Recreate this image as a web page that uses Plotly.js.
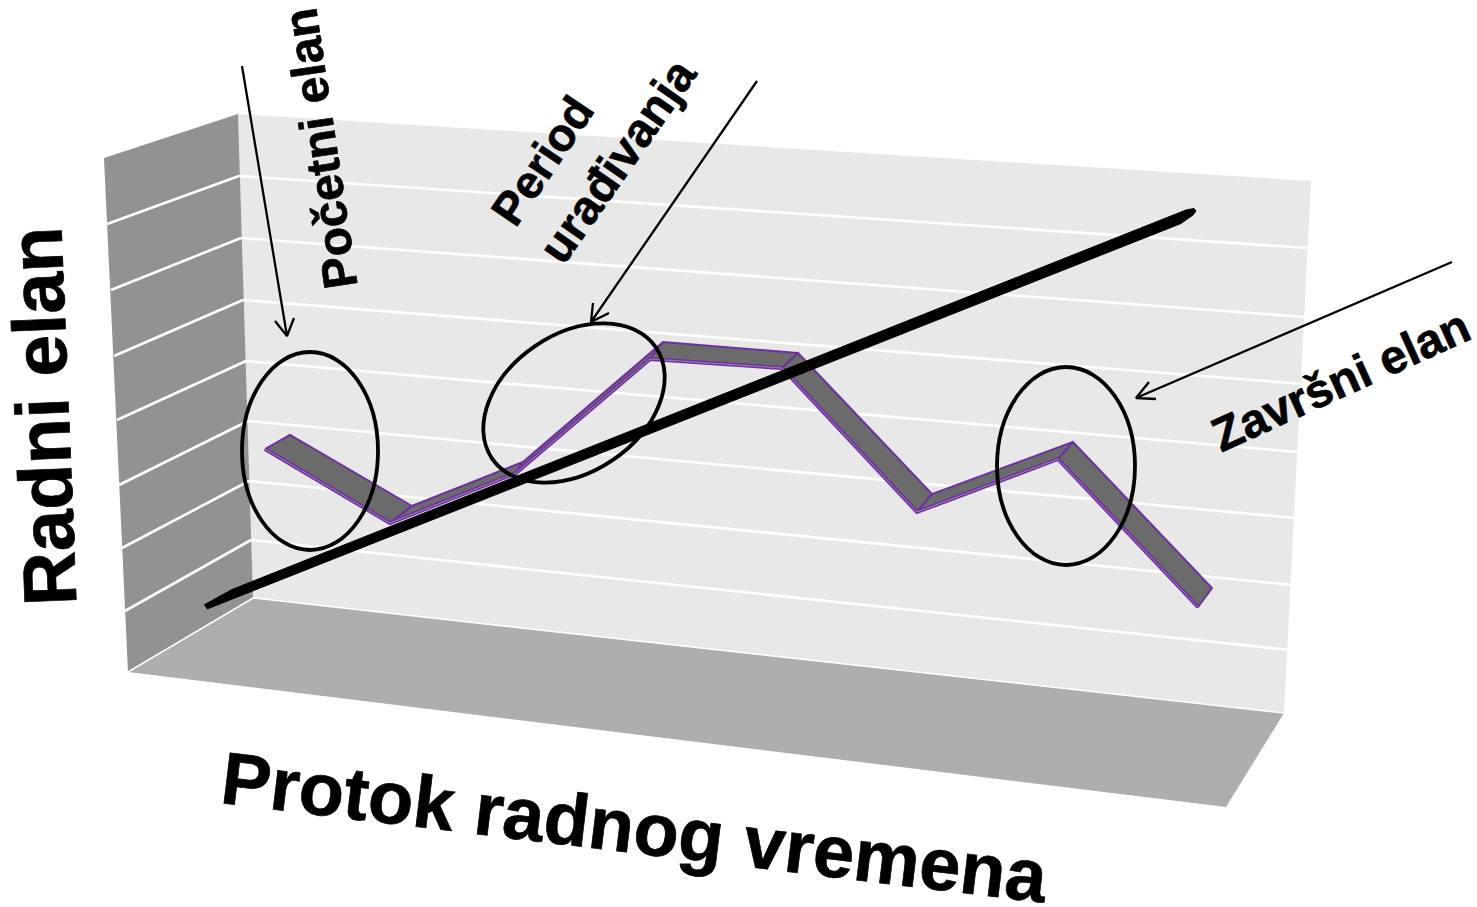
<!DOCTYPE html>
<html>
<head>
<meta charset="utf-8">
<script src="https://cdn.plot.ly/plotly-3.0.1.min.js"></script>
<style>html,body{margin:0;padding:0;background:#fff;overflow:hidden}#chart{width:1477px;height:907px}
.annotation-text{stroke:#000;stroke-width:.7px}</style>
</head>
<body>
<div id="chart"></div>
<script>
// In the chart's own units
var wallBackX = [238, 1311, 1284, 253];
var wallBackY = [114, 181, 713, 598];
var wallLeftX = [104, 238, 253, 128];
var wallLeftY = [158, 114, 598, 672];
var floorX = [128, 253, 1284, 1226];
var floorY = [672, 598, 713, 807];

var gridBackStartX = [239, 241, 243, 246, 248, 249, 251];
var gridBackEndX = [1307, 1305, 1303, 1298, 1295, 1292, 1290];
var gridBackStartY = [176, 238, 300, 361, 421, 481, 540];
var gridBackEndY = [248, 317, 384, 452, 518, 585, 650];
var gridLeftFrontX = [107, 111, 114, 117, 119, 122, 125];
var gridLeftFrontY = [224, 290, 356, 420, 485, 548, 611];

var ribbonFrontX = [265, 390, 516, 650, 782, 917, 1058, 1198];
var ribbonFrontY = [449, 523, 473, 359, 368, 512, 459, 607];
var ribbonBackX = [290, 412, 523, 663, 798, 932, 1073, 1212];
var ribbonBackY = [435, 506, 462, 342, 353, 494, 442, 588];

var trendX = [204, 232, 1186, 1194, 1196, 1193, 1181, 236, 207];
var trendY = [605, 589.5, 210, 208.5, 211, 215, 223.5, 598, 609];

var ringCentreX = [310, 574, 1066];
var ringCentreY = [451, 403, 466];
var ringRadiusA = [68, 99, 69];
var ringRadiusB = [99, 69, 99];
var ringTilt = [0, -34, 0];

var arrowOneX = [242, 287, 275, 287, 294];
var arrowOneY = [66, 336, 321, 336, 318];
var arrowTwoX = [757, 591, 593, 591, 609];
var arrowTwoY = [81, 322, 303, 322, 313];
var arrowThreeX = [1452, 1136, 1149, 1136, 1156];
var arrowThreeY = [262, 398, 382, 398, 399];

var labelTexts = ['Radni elan', 'Protok radnog vremena', 'Početni elan', 'Period', 'urađivanja', 'Završni elan'];
var labelX = [43, 635, 320, 542, 617, 1340];
var labelY = [417, 827, 149, 161, 160, 380];
var labelAngle = [-92.3, 6.9, -98.5, -56, -55, -24.4];
var labelSize = [75, 74, 48, 46, 47, 47.5];

var traces = [];
function poly(x, y, fill, edge) {
  traces.push({x: x, y: y, mode: 'lines', fill: 'toself', fillcolor: fill,
    line: {width: edge || 0, color: fill}, hoverinfo: 'skip', showlegend: false});
}
function line(x, y, color, width) {
  traces.push({x: x, y: y, mode: 'lines', line: {color: color, width: width},
    hoverinfo: 'skip', showlegend: false});
}

poly(wallBackX, wallBackY, '#e8e8e8');
poly(wallLeftX, wallLeftY, '#929292');
poly(floorX, floorY, '#aeaeae');

gridBackStartX.forEach(function (sx, i) {
  line([sx, gridBackEndX[i]], [gridBackStartY[i], gridBackEndY[i]], '#ffffff', 2.6);
  line([gridLeftFrontX[i], sx], [gridLeftFrontY[i], gridBackStartY[i]], '#ffffff', 2.6);
});
line([wallLeftX[3], wallLeftX[2], wallBackX[2]], [wallLeftY[3], wallLeftY[2], wallBackY[2]], '#ffffff', 1.5);

for (var i = 0; i < ribbonFrontX.length - 1; i++) {
  traces.push({
    x: [ribbonFrontX[i], ribbonBackX[i], ribbonBackX[i + 1], ribbonFrontX[i + 1], ribbonFrontX[i]],
    y: [ribbonFrontY[i], ribbonBackY[i], ribbonBackY[i + 1], ribbonFrontY[i + 1], ribbonFrontY[i]],
    mode: 'lines', fill: 'toself', fillcolor: '#6b6b6b',
    line: {color: '#7030a0', width: 2}, hoverinfo: 'skip', showlegend: false
  });
}
line(ribbonFrontX, ribbonFrontY, '#7030a0', 4);
line(ribbonFrontX, ribbonFrontY, '#9c86b4', 1);

poly(trendX, trendY, '#000000', 1);

line(arrowOneX, arrowOneY, '#000000', 2.3);
line(arrowTwoX, arrowTwoY, '#000000', 2.3);
line(arrowThreeX, arrowThreeY, '#000000', 2.3);

// Ring outlines as four cubic curves through the axes
function ringPath(cx, cy, a, b, deg) {
  var t = deg * Math.PI / 180, c = Math.cos(t), s = Math.sin(t), k = 0.5523;
  function p(u, v) { return (cx + u * c - v * s).toFixed(2) + ',' + (cy + u * s + v * c).toFixed(2); }
  return 'M' + p(a, 0) +
    'C' + p(a, k * b) + ' ' + p(k * a, b) + ' ' + p(0, b) +
    'C' + p(-k * a, b) + ' ' + p(-a, k * b) + ' ' + p(-a, 0) +
    'C' + p(-a, -k * b) + ' ' + p(-k * a, -b) + ' ' + p(0, -b) +
    'C' + p(k * a, -b) + ' ' + p(a, -k * b) + ' ' + p(a, 0) + 'Z';
}
var shapes = ringCentreX.map(function (cx, i) {
  return {type: 'path', xref: 'x', yref: 'y', layer: 'above',
    path: ringPath(cx, ringCentreY[i], ringRadiusA[i], ringRadiusB[i], ringTilt[i]),
    line: {color: '#000000', width: 3.8}, fillcolor: 'rgba(0,0,0,0)'};
});

var annotations = labelTexts.map(function (t, i) {
  return {text: t, x: labelX[i], y: labelY[i], xref: 'x', yref: 'y',
    xanchor: 'center', yanchor: 'middle', showarrow: false, textangle: labelAngle[i],
    font: {family: '"Liberation Sans", Arial, sans-serif', size: labelSize[i], color: '#000000', weight: 700}};
});

Plotly.newPlot('chart', traces, {
  width: 1477, height: 907,
  margin: {l: 0, r: 0, t: 0, b: 0},
  paper_bgcolor: '#ffffff', plot_bgcolor: '#ffffff',
  showlegend: false,
  xaxis: {range: [0, 1477], visible: false, fixedrange: true},
  yaxis: {range: [907, 0], visible: false, fixedrange: true},
  shapes: shapes,
  annotations: annotations
}, {displayModeBar: false, staticPlot: true});
</script>
</body>
</html>
